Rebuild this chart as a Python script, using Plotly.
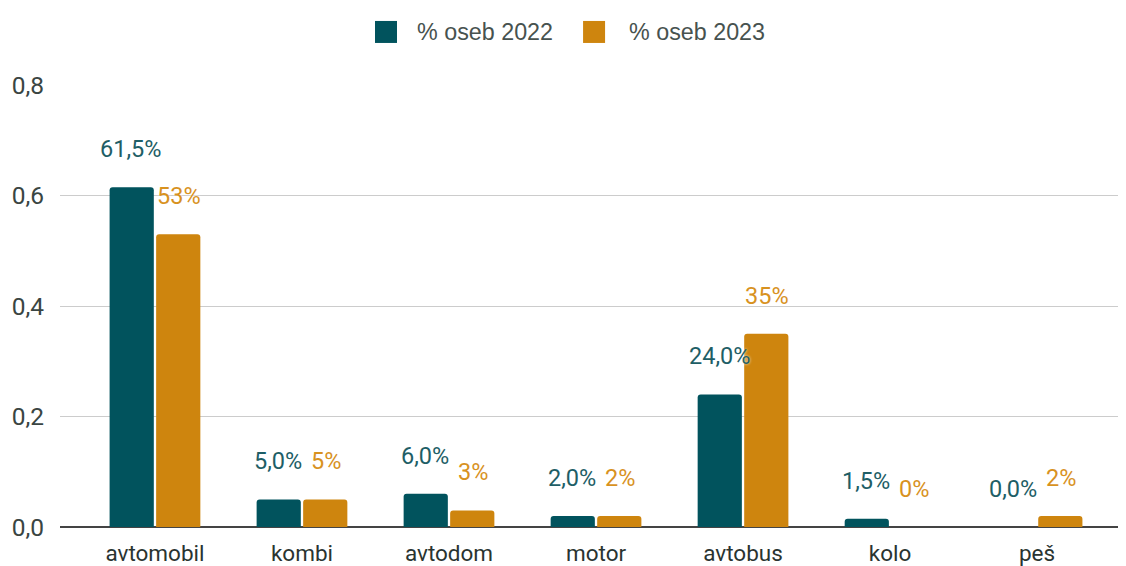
import plotly.graph_objects as go

categories = ["avtomobil", "kombi", "avtodom", "motor", "avtobus", "kolo", "peš"]
pct_2022 = [0.615, 0.05, 0.06, 0.02, 0.24, 0.015, 0.0]
pct_2023 = [0.53, 0.05, 0.03, 0.02, 0.35, 0.0, 0.02]
series_names = ["% oseb 2022", "% oseb 2023"]
y_ticks = [0.0, 0.2, 0.4, 0.6, 0.8]

c22 = "#01535D"
c23 = "#CE850E"
lab22 = "#1E5E66"
lab23 = "#D8921F"

fig = go.Figure()
fig.add_trace(go.Bar(x=categories, y=pct_2022, name=series_names[0], showlegend=False,
                     marker=dict(color=c22, cornerradius=3, line=dict(width=0))))
fig.add_trace(go.Bar(x=categories, y=pct_2023, name=series_names[1], showlegend=False,
                     marker=dict(color=c23, cornerradius=3, line=dict(width=0))))

def fmt22(v):
    return f"{v*100:.1f}%".replace(".", ",")

def fmt23(v):
    return f"{v*100:.0f}%"

lab_font = dict(family="Roboto", size=23.5)
annotations = []
for cat, v in zip(categories, pct_2022):
    annotations.append(dict(x=cat, y=v, xref="x", yref="y", text=fmt22(v), showarrow=False,
                            xshift=-24, yshift=38, yanchor="middle",
                            font=dict(**lab_font, color=lab22, shadow="0px 0px 3px white")))
for cat, v in zip(categories, pct_2023):
    annotations.append(dict(x=cat, y=v, xref="x", yref="y", text=fmt23(v), showarrow=False,
                            xshift=24, yshift=38, yanchor="middle",
                            font=dict(**lab_font, color=lab23, shadow="0px 0px 3px white")))

# custom legend (larger swatches than plotly's built-in legend)
leg_y = 1.12
leg_items = [(series_names[0], c22, 0.3058, 0.333), (series_names[1], c23, 0.501, 0.5319)]
shapes = []
for name, col, sx, tx in leg_items:
    shapes.append(dict(type="rect", xref="paper", yref="paper", xsizemode="pixel", ysizemode="pixel",
                       xanchor=sx, yanchor=leg_y, x0=-11, x1=11, y0=-11, y1=11,
                       fillcolor=col, line=dict(width=0)))
    annotations.append(dict(x=tx, y=leg_y, xref="paper", yref="paper", text=name, showarrow=False,
                            xanchor="left", yanchor="middle",
                            font=dict(family="Liberation Sans, Arial", size=23.3, color="#47524F")))

fig.update_layout(
    width=1118, height=558,
    margin=dict(l=52, r=0, t=77, b=39),
    paper_bgcolor="white", plot_bgcolor="white",
    separators=",.",
    barmode="group", bargap=0.367, bargroupgap=0.05,
    font=dict(family="Roboto", size=20, color="#2F3B38"),
    showlegend=False,
    annotations=annotations,
    shapes=shapes,
    xaxis=dict(range=[-0.646, 6.605], showgrid=False, zeroline=False, showline=False,
               ticks="", ticklabelstandoff=10, tickfont=dict(size=22.5, color="#2A3431")),
    yaxis=dict(range=[0, 0.8], tickvals=y_ticks, tickformat=".1f", showgrid=True,
               gridcolor="#CCCCCC", gridwidth=1, zeroline=True, zerolinecolor="#444444",
               zerolinewidth=1.5, showline=False, ticklabelstandoff=15,
               tickfont=dict(size=24.5, color="#3A4542")),
)

fig.write_html("out.html")
